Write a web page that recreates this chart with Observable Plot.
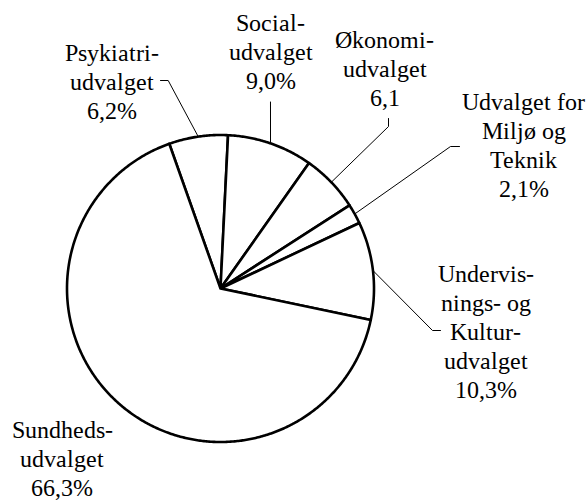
<!DOCTYPE html>
<html><head><meta charset="utf-8">
<script src="https://cdn.jsdelivr.net/npm/d3@7"></script>
<script src="https://cdn.jsdelivr.net/npm/@observablehq/plot@0.6"></script>
<style>
@font-face{font-family:"RefSerif";src:local("Liberation Serif"),local("LiberationSerif"),local("LiberationSerif-Regular"),local("Liberation Serif Regular"),local("Tinos"),local("Tinos-Regular"),local("Times New Roman"),local("TimesNewRomanPSMT");}
html,body{margin:0;padding:0;background:#fff}
</style>
</head><body><div id="chart"></div>
<script>
// ---- data ----
const categories = ["Psykiatriudvalget", "Socialudvalget", "Økonomiudvalget", "Udvalget for Miljø og Teknik", "Undervisnings- og Kulturudvalget", "Sundhedsudvalget"];
const shares = [6.2, 9.0, 6.1, 2.1, 10.3, 66.3];
const labelTexts = [
  "Psykiatri-\nudvalget\n6,2%",
  "Social-\nudvalget\n9,0%",
  "Økonomi-\nudvalget\n6,1",
  "Udvalget for\nMiljø og\nTeknik\n2,1%",
  "Undervis-\nnings- og\nKultur-\nudvalget\n10,3%",
  "Sundheds-\nudvalget\n66,3%"
];

// ---- layout ----
const W = 587, H = 501, cx = 220, cy = 288, R = 153.5, startDeg = -19.5;
const fontSize = 23.5, lineH = 29;
const labelPos = [[111, 118], [270, 88], [384, 105], [523, 196], [485, 397], [61.5, 495]]; // center x, last baseline
const leaderPath = [[[167.7, 80], [160, 80]], [[270, 101.5]], [[388, 126], [388, 118]], [[450, 146], [459, 146]], [[432, 330], [440, 330]], null];

const a0 = startDeg * Math.PI / 180;
const arcs = d3.pie().sort(null).startAngle(a0).endAngle(a0 + 2 * Math.PI)(shares);
const pt = (a, r) => [cx + r * Math.sin(a), cy - r * Math.cos(a)];

const slicePts = [];
arcs.forEach((d, i) => {
  const n = Math.max(2, Math.ceil((d.endAngle - d.startAngle) / (Math.PI / 360)));
  slicePts.push({s: i, p: [cx, cy]});
  for (let k = 0; k <= n; k++) {
    const a = d.startAngle + (d.endAngle - d.startAngle) * k / n;
    slicePts.push({s: i, p: pt(a, R)});
  }
  slicePts.push({s: i, p: [cx, cy]});
});

const leaderPts = [];
arcs.forEach((d, i) => {
  if (!leaderPath[i]) return;
  const mid = (d.startAngle + d.endAngle) / 2;
  leaderPts.push({s: i, p: pt(mid, R)});
  leaderPath[i].forEach(p => leaderPts.push({s: i, p}));
});

const labels = labelTexts.map((t, i) => ({t, x: labelPos[i][0], y: labelPos[i][1]}));

const chart = Plot.plot({
  width: W, height: H, margin: 0,
  style: {background: "#fff"},
  x: {domain: [0, W], range: [0, W], axis: null},
  y: {domain: [0, H], range: [0, H], axis: null},
  marks: [
    Plot.line(leaderPts, {x: d => d.p[0], y: d => d.p[1], z: "s", stroke: "#000", strokeWidth: 1}),
    Plot.line(slicePts, {x: d => d.p[0], y: d => d.p[1], z: "s", fill: "#fff", stroke: "#000", strokeWidth: 2.6, strokeLinejoin: "round"}),
    Plot.text(labels, {x: "x", y: "y", text: "t", textAnchor: "middle", lineAnchor: "bottom", lineHeight: lineH / fontSize, fontSize, fontFamily: "RefSerif, 'Liberation Serif', serif", fill: "#000"})
  ]
});
document.getElementById("chart").appendChild(chart);
</script>
</body></html>
